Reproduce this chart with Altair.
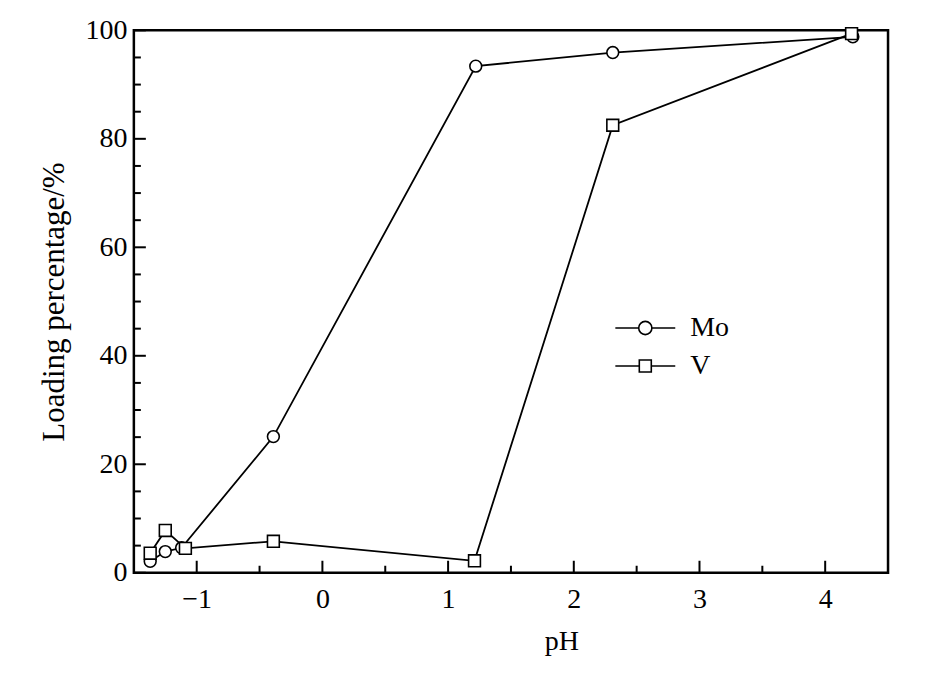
import altair as alt
import pandas as pd

# ---- data ----
series = ["Mo", "V"]
ph_mo = [-1.37, -1.25, -1.12, -0.39, 1.22, 2.31, 4.22]
load_mo = [2.1, 3.9, 4.6, 25.1, 93.4, 95.9, 98.8]
ph_v = [-1.37, -1.25, -1.09, -0.39, 1.21, 2.31, 4.21]
load_v = [3.6, 7.8, 4.5, 5.8, 2.2, 82.5, 99.4]

x_major = [-1, 0, 1, 2, 3, 4]
x_minor = [-0.5, 0.5, 1.5, 2.5, 3.5]
y_major = [0, 20, 40, 60, 80, 100]
y_minor = [5, 10, 15, 25, 30, 35, 45, 50, 55, 65, 70, 75, 85, 90, 95]

df = pd.DataFrame({
    "pH": ph_mo + ph_v,
    "load": load_mo + load_v,
    "series": ["Mo"] * len(ph_mo) + ["V"] * len(ph_v),
    "order": list(range(len(ph_mo))) + list(range(len(ph_v))),
})

W, H = 755, 543
FONT = "Liberation Serif"

xs = alt.Scale(domain=[-1.5, 4.5], nice=False, zero=False)
ys = alt.Scale(domain=[0, 100], nice=False)

x_axis = alt.Axis(values=x_major, title="pH", labelFontSize=28, titleFontSize=28,
                  labelFont=FONT, titleFont=FONT, titleFontWeight="normal",
                  tickSize=0, domain=False, grid=False, labelPadding=13,
                  titlePadding=14, labelColor="black", titleColor="black",
                  titleX=428, titleAnchor="middle", titleAlign="center",
                  labelExpr="datum.value < 0 ? '\u2212' + format(abs(datum.value), 'd') : format(datum.value, 'd')")
y_axis = alt.Axis(values=y_major, title="Loading percentage/%", labelFontSize=28,
                  titleFontSize=31, labelFont=FONT, titleFont=FONT,
                  titleFontWeight="normal", tickSize=0, domain=False, grid=False,
                  labelPadding=7, titlePadding=14, labelColor="black", titleColor="black")

base = alt.Chart(df)

lines = base.mark_line(color="black", strokeWidth=1.8).encode(
    x=alt.X("pH:Q", scale=xs, axis=x_axis),
    y=alt.Y("load:Q", scale=ys, axis=y_axis),
    detail="series:N",
    order="order:Q",
)

p_mo = "M-1,0H-0.22M0.22,0H1M-0.22,0A0.22,0.22 0 1,1 0.22,0A0.22,0.22 0 1,1 -0.22,0Z"
p_v = "M-1,0H-0.2M0.2,0H1M-0.2,-0.2H0.2V0.2H-0.2Z"

points = base.mark_point(filled=True, fill="white", stroke="black", strokeWidth=1.6,
                         size=140, opacity=1).encode(
    x=alt.X("pH:Q", scale=xs),
    y=alt.Y("load:Q", scale=ys),
    shape=alt.Shape("series:N", scale=alt.Scale(domain=series, range=["circle", "square"]),
                    legend=None),
)

legend_layer = alt.Chart(pd.DataFrame({"series": series})).transform_filter("false").mark_point(
    filled=False, color="black", opacity=1, strokeWidth=1.6
).encode(
    shape=alt.Shape("series:N", scale=alt.Scale(domain=series, range=[p_mo, p_v]),
                    legend=alt.Legend(title=None, orient="none", legendX=481, legendY=279,
                                      symbolSize=3600, symbolStrokeColor="black",
                                      symbolStrokeWidth=1.6, symbolFillColor="white",
                                      labelFont=FONT, labelFontSize=28, labelColor="black",
                                      labelOffset=14, clipHeight=38, rowPadding=0,
                                      padding=0, symbolOffset=0)),
)

tick_df_x = pd.DataFrame({"v": x_major})
tick_df_xm = pd.DataFrame({"v": x_minor})
tick_df_y = pd.DataFrame({"v": y_major})
tick_df_ym = pd.DataFrame({"v": y_minor})

xt_major = alt.Chart(tick_df_x).mark_rule(color="black", strokeWidth=2).encode(
    x=alt.X("v:Q", scale=xs), y=alt.value(H), y2=alt.value(H - 12))
xt_minor = alt.Chart(tick_df_xm).mark_rule(color="black", strokeWidth=2).encode(
    x=alt.X("v:Q", scale=xs), y=alt.value(H), y2=alt.value(H - 7))
yt_major = alt.Chart(tick_df_y).mark_rule(color="black", strokeWidth=2).encode(
    y=alt.Y("v:Q", scale=ys), x=alt.value(0), x2=alt.value(12))
yt_minor = alt.Chart(tick_df_ym).mark_rule(color="black", strokeWidth=2).encode(
    y=alt.Y("v:Q", scale=ys), x=alt.value(0), x2=alt.value(7))

chart = alt.layer(
    lines, xt_major, xt_minor, yt_major, yt_minor, points, legend_layer
).resolve_scale(shape="independent").properties(
    width=W, height=H,
    autosize=alt.AutoSizeParams(type="none"),
    padding={"left": 126, "top": 22, "right": 30, "bottom": 100},
).configure(background="white").configure_view(stroke="black", strokeWidth=2.5)

chart.save("out.html", embed_options={"renderer": "svg", "actions": False})
